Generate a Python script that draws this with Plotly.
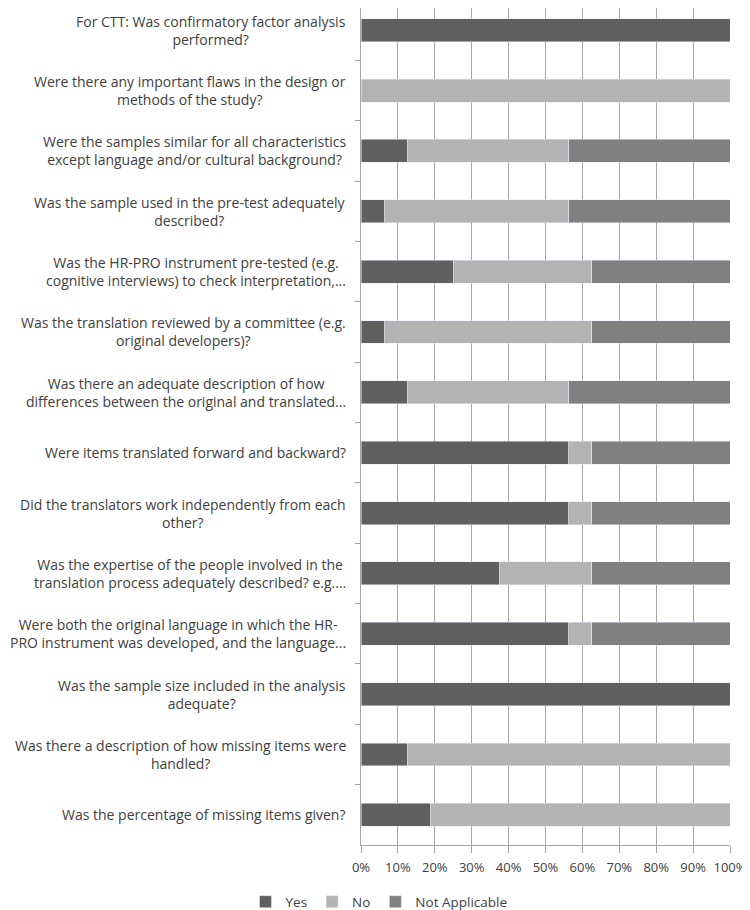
import plotly.graph_objects as go

questions = [
    "For CTT: Was confirmatory factor analysis<br>performed?",
    "Were there any important flaws in the design or<br>methods of the study?",
    "Were the samples similar for all characteristics<br>except language and/or cultural background?",
    "Was the sample used in the pre-test adequately<br>described?",
    "Was the HR-PRO instrument pre-tested (e.g.<br>cognitive interviews) to check interpretation,...",
    "Was the translation reviewed by a committee (e.g.<br>original developers)?",
    "Was there an adequate description of how<br>differences between the original and translated...",
    "Were items translated forward and backward?",
    "Did the translators work independently from each<br>other?",
    "Was the expertise of the people involved in the<br>translation process adequately described? e.g....",
    "Were both the original language in which the HR-<br>PRO instrument was developed, and the language...",
    "Was the sample size included in the analysis<br>adequate?",
    "Was there a description of how missing items were<br>handled?",
    "Was the percentage of missing items given?",
]

yes = [100, 0, 12.5, 6.25, 25, 6.25, 12.5, 56.25, 56.25, 37.5, 56.25, 100, 12.5, 18.75]
no = [0, 100, 43.75, 50, 37.5, 56.25, 43.75, 6.25, 6.25, 25, 6.25, 0, 87.5, 81.25]
not_applicable = [0, 0, 43.75, 43.75, 37.5, 37.5, 43.75, 37.5, 37.5, 37.5, 37.5, 0, 0, 0]

pct_ticks = list(range(0, 101, 10))
pct_labels = [f"{v}%" for v in pct_ticks]

ids = list(range(len(questions)))
font = "Open Sans"
grey = "#a6a6a6"

fig = go.Figure()
fig.add_trace(go.Bar(y=ids, x=yes, name="Yes", orientation="h", marker_color="#606060"))
fig.add_trace(go.Bar(y=ids, x=no, name="No", orientation="h", marker_color="#b3b3b3"))
fig.add_trace(go.Bar(y=ids, x=not_applicable, name="Not Applicable", orientation="h",
                     marker_color="#808080"))

# centred two-line labels, like the original
for i, q in enumerate(questions):
    fig.add_annotation(x=-0.036, xref="paper", y=i, yref="y", text=q, showarrow=False,
                       xanchor="right", align="center",
                       font=dict(family=font, size=14, color="#404040"))

# page body has an 8px margin, so size the figure a bit smaller
fig.update_layout(
    barmode="stack",
    bargap=0.62,
    width=742,
    height=902,
    margin=dict(l=353, r=20, t=0, b=65, autoexpand=False),
    plot_bgcolor="white",
    paper_bgcolor="white",
    font=dict(family=font, size=13, color="#404040"),
    legend=dict(orientation="h", x=0.5, y=0.009, xref="container", yref="container",
                xanchor="center", yanchor="middle", font=dict(size=13.5),
                traceorder="normal", itemwidth=30),
)
fig.update_xaxes(range=[0, 100], tickvals=pct_ticks, ticktext=pct_labels,
                 tickfont=dict(size=13), ticklabelstandoff=3,
                 showgrid=True, gridcolor=grey, gridwidth=1,
                 showline=True, linecolor=grey, ticks="outside", tickcolor=grey,
                 ticklen=7, zeroline=False)
fig.update_yaxes(range=[13.5, -0.368], showticklabels=False,
                 tickvals=[i + 0.5 for i in ids[:-1]],
                 ticks="outside", tickcolor=grey, ticklen=5,
                 showline=True, linecolor=grey, showgrid=False, zeroline=False)

fig.write_html("out.html")
